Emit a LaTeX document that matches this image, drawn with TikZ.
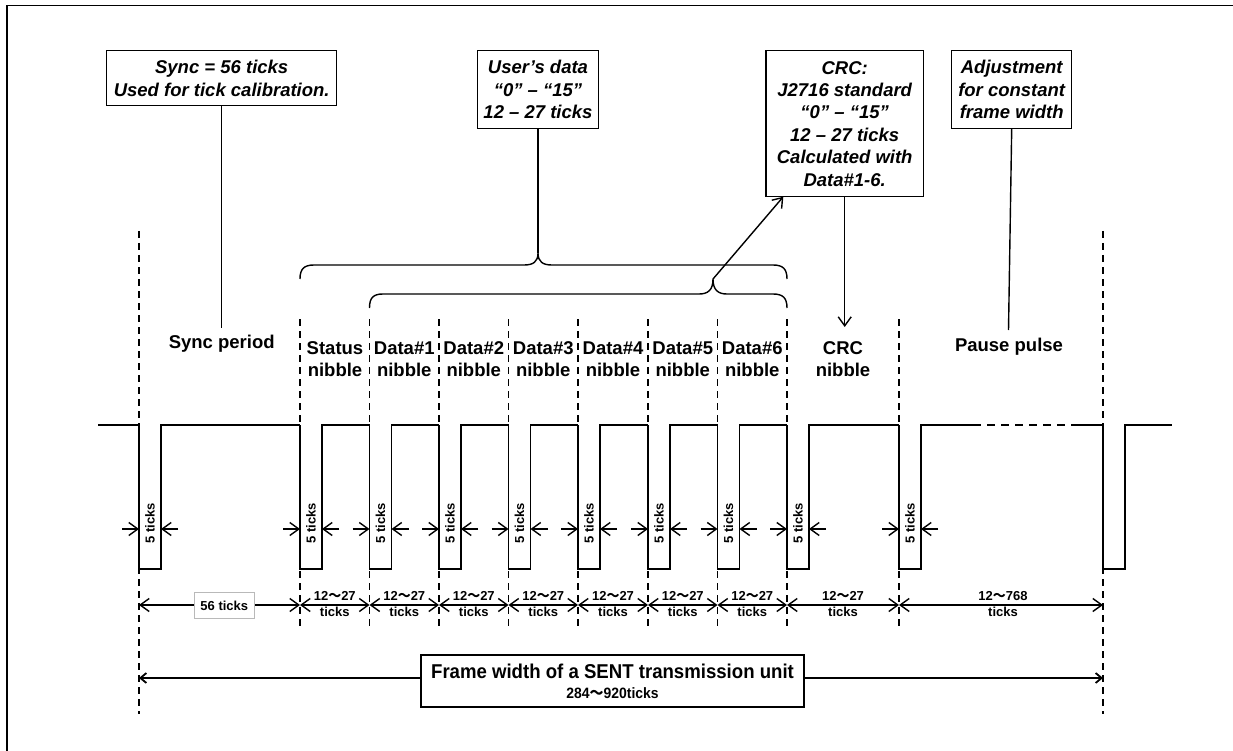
\documentclass[tikz,border=0pt]{standalone}
\usepackage{fontspec}
\usepackage{graphicx}
\setmainfont{Liberation Sans}
\newfontfamily\jpfont{Noto Sans CJK JP}
\usetikzlibrary{arrows.meta}
\newcommand{\wv}{{\jpfont ～}}
\begin{document}
\begin{tikzpicture}[x=1pt,y=-1pt,
  every node/.style={inner sep=0pt, outer sep=0pt},
  box/.style={draw, line width=1.4pt, fill=white, align=center, font=\fontsize{18.5}{22.4}\selectfont\bfseries\itshape},
  lbl/.style={align=center, font=\fontsize{18.5}{22.4}\selectfont\bfseries},
  small/.style={align=center, font=\fontsize{13}{16}\selectfont\bfseries},
  sig/.style={line width=1.8pt, line join=miter},
  vdash/.style={line width=1.4pt, dash pattern=on 7pt off 5pt},
  conn/.style={line width=1.4pt},
  arr/.style={line width=1.4pt, -{Straight Barb[length=9pt,width=13pt]}},
  dim/.style={line width=1.4pt, {Straight Barb[length=9pt,width=13pt]}-{Straight Barb[length=9pt,width=13pt]}},
  fdim/.style={line width=1.8pt, {Straight Barb[length=6pt,width=10pt]}-{Straight Barb[length=6pt,width=10pt]}},
]
\useasboundingbox (0,0) rectangle (1233,751);
\fill[white] (0,0) rectangle (1233,751);
% outer frame (partial)
\draw[line width=1.6pt] (6.7,751) -- (6.7,5.7) -- (1233,5.7);

% dashed guide lines
\foreach \x in {300,369.5,439,508.5,578,648,717.5,787,899}
  \draw[vdash] (\x,319) -- (\x,630);
\draw[vdash] (139,231) -- (139,714);
\draw[vdash] (1103,231) -- (1103,714);

% signal
\draw[sig] (98,425) -- (139,425);
\foreach \a/\b in {139/300,300/369.5,369.5/439,439/508.5,508.5/578,578/648,648/717.5,717.5/787,787/899}
  \draw[sig] (\a,425) -- (\a,569) -- ({\a+22},569) -- ({\a+22},425) -- (\b,425);
\draw[sig] (899,425) -- (899,569) -- (921,569) -- (921,425) -- (973,425);
\draw[sig, dash pattern=on 8pt off 6pt] (973,425) -- (1073,425);
\draw[sig] (1073,425) -- (1103,425) -- (1103,569) -- (1125,569) -- (1125,425) -- (1172,425);

% 5 ticks markers
\foreach \x [count=\i] in {139,300,369.5,439,508.5,578,648,717.5,787,899} {
  \node[small, rotate=90] (fv\i) at ({\x+11},523) {5 ticks};
  \draw[arr] ({\x-17},529) -- (\x,529);
  \draw[arr] ({\x+39},529) -- ({\x+22},529);
}

% dimension row
\draw[dim] (139,605) -- (300,605);
\node[small, draw=gray!55, line width=0.9pt, fill=white, minimum width=60pt, minimum height=25.6pt] (d56) at (224.3,605.5) {56 ticks};
\foreach \a/\b [count=\i] in {300/369.5,369.5/439,439/508.5,508.5/578,578/648,648/717.5,717.5/787,787/899} {
  \draw[dim] (\a,605) -- (\b,605);
  \node[small] (dl\i) at ({(\a+\b)/2},603.7) {12\wv27\\ticks};
}
\draw[dim] (899,605) -- (1103,605);
\node[small] (dpause) at (1003,603.7) {12\wv768\\ticks};

% frame width
\draw[fdim] (139,678) -- (1103,678);
\node[draw, fill=white, line width=1.6pt, minimum width=383pt, minimum height=52pt] (framebox) at (612.5,681) {};
\node (ftA) at (612.5,671) {\fontsize{20}{20}\selectfont\bfseries\scalebox{0.93}[1]{Frame width of a SENT transmission unit}};
\node (ftB) at (612.5,693) {\fontsize{15}{15}\selectfont\bfseries\scalebox{0.93}[1]{284\wv920ticks}};

% section labels
\node[lbl] (syncl) at (221.7,344) {Sync period};
\node[lbl] (statl) at (335,359) {Status\\nibble};
\foreach \a/\b/\n in {369.5/439/1,439/508.5/2,508.5/578/3,578/648/4,648/717.5/5,717.5/787/6}
  \node[lbl] (dat\n) at ({(\a+\b)/2},359) {Data\#\n\\nibble};
\node[lbl] (crcl) at (843,359) {CRC\\nibble};
\node[lbl] (pausel) at (1009,347) {Pause pulse};

% callout boxes
\node[box, minimum width=230pt, minimum height=55pt] (syncbox) at (221.7,78.2) {Sync = 56 ticks\\Used for tick calibration.};
\node[box, minimum width=121.4pt, minimum height=77.6pt] (userbox) at (538,89.5) {User’s data\\“0” – “15”\\12 – 27 ticks};
\node[box, minimum width=157.3pt, minimum height=146pt] (crcbox) at (844.7,123.7) {CRC:\\J2716 standard\\“0” – “15”\\12 – 27 ticks\\Calculated with\\Data\#1-6.};
\node[box, minimum width=120pt, minimum height=77.6pt] (adjbox) at (1011.7,89.5) {Adjustment\\for constant\\frame width};

% braces
\coordinate (ubtip) at (538,253);
\coordinate (lbtip) at (713,279);
\draw[conn] (300,279) .. controls (300,269) and (304,265) .. (314,265) -- (524,265)
  .. controls (533,265) and (538,262) .. (ubtip)
  .. controls (538,262) and (543,265) .. (552,265) -- (773,265)
  .. controls (783,265) and (787,269) .. (787,279);
\draw[conn] (369.5,308) .. controls (369.5,298) and (373,294) .. (383,294) -- (699,294)
  .. controls (708,294) and (713,290) .. (lbtip)
  .. controls (713,290) and (718,294) .. (727,294) -- (773,294)
  .. controls (783,294) and (787,298) .. (787,308);

% connectors
\coordinate (syncend) at (221.7,328);
\coordinate (crcend) at (844.7,327);
\coordinate (adjend) at (1008.5,330);
\coordinate (crcin) at (783.3,196.7);
\draw[conn] (syncbox.south) -- (syncend);
\draw[conn] (userbox.south) -- (ubtip);
\draw[arr] (crcbox.south) -- (crcend);
\draw[conn] (adjbox.south) -- (adjend);
\draw[arr] (lbtip) -- (crcin);
\end{tikzpicture}
\end{document}
